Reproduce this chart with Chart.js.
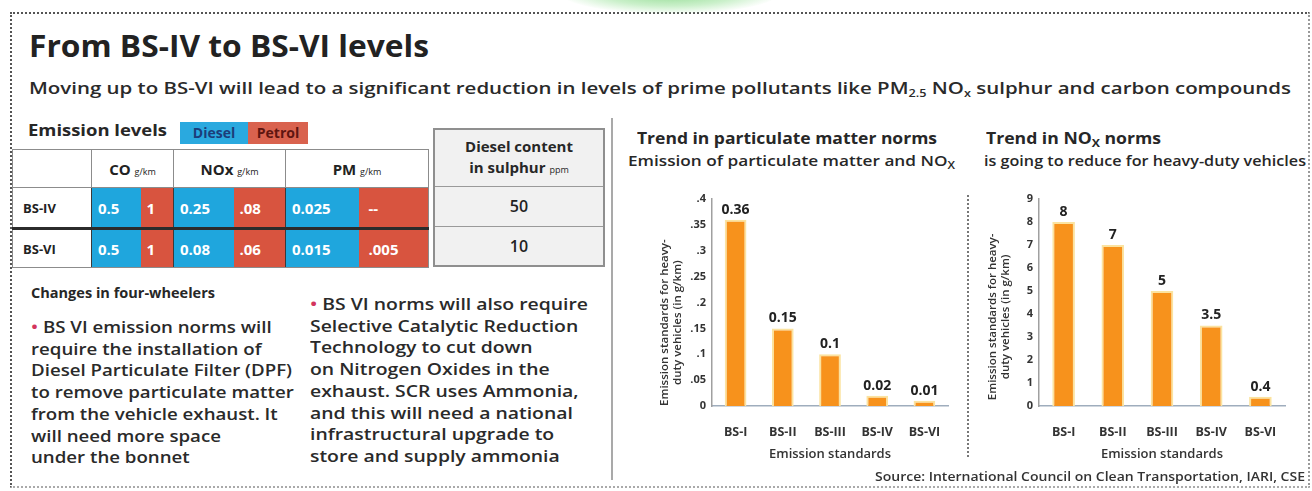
<!DOCTYPE html>
<html>
<head>
<meta charset="utf-8">
<script src="https://cdn.jsdelivr.net/npm/chart.js@4.4.0/dist/chart.umd.min.js"></script>
<style>
  html, body { margin: 0; padding: 0; background: #fff; }
  body { width: 1312px; height: 491px; position: relative; overflow: hidden; font-family: "Open Sans", sans-serif; color: #272727; }
  .abs { position: absolute; white-space: nowrap; }
  .fit { display: inline-block; transform-origin: 0 50%; }
  #frame { position: absolute; left: 10px; top: 12px; width: 1296px; height: 472px;
           border-top: 2px dotted #555; border-left: 2px dotted #555; border-right: 2px dotted #999; border-bottom: 2px dotted #aaa; }
  #blob { position: absolute; left: 560px; top: -30px; width: 220px; height: 44px; border-radius: 50%;
          background: radial-gradient(ellipse at center, rgba(120,210,120,.85) 0%, rgba(150,225,150,.5) 45%, rgba(255,255,255,0) 72%); }
  #title { left: 29px; top: 24px; font-size: 31px; font-weight: 700; color: #222; }
  #subtitle { left: 29px; top: 76px; font-size: 17px; font-weight: 600; color: #2a2a2a; }
  sub { font-size: 62%; vertical-align: -3px; line-height: 0; }
  #emlab { left: 28px; top: 119px; font-size: 16px; font-weight: 700; }
  .key { position: absolute; top: 122px; height: 22px; line-height: 22px; font-size: 14px; font-weight: 700; text-align: center; }
  table.em { position: absolute; left: 12px; top: 149px; border-collapse: collapse; table-layout: fixed; }
  table.em td { padding: 0 0 0 6px; font-weight: 700; font-size: 15px; white-space: nowrap; }
  table.em tr.head td { height: 37px; background: #fff; color: #222; text-align: center; padding: 0; border: 1.5px solid #8c8c8c; }
  table.em td.std { background: #fff; color: #222; font-size: 13px; padding-left: 10px; border-left: 1.5px solid #8c8c8c; }
  table.em td.d { background: #1fa6dd; color: #fff; }
  table.em td.p { background: #d8543f; color: #fff; }
  table.em tr.r0 td { height: 39px; border-bottom: 3px solid #2b2b2b; }
  table.em tr.r1 td { height: 37px; border-bottom: 1.5px solid #8c8c8c; }
  table.em td.grp { border-left: 1.5px solid #3a3a3a; }
  table.em td.last { border-right: 1.5px solid #8c8c8c; }
  .unit { font-size: 9px; font-weight: 400; }
  #sulphur { position: absolute; left: 433px; top: 128px; width: 168px; height: 135px; border: 2px solid #8f8f8f; background: #f1f1f1; }
  #sulphur div { text-align: center; }
  #sulphur .h { height: 57px; border-bottom: 1.5px solid #9a9a9a; font-weight: 700; font-size: 15px; line-height: 21px; padding-top: 6px; box-sizing: border-box; }
  #sulphur .v { height: 39px; line-height: 39px; font-size: 16px; font-weight: 600; color: #222; }
  #sulphur .v0 { border-bottom: 1.5px solid #9a9a9a; }
  #vsep { position: absolute; left: 611px; top: 118px; width: 2px; height: 362px; background: #a9a9a9; }
  #changes { left: 31px; top: 282px; font-size: 15px; font-weight: 700; }
  .col { position: absolute; font-size: 17px; font-weight: 600; line-height: 21.7px; color: #2a2a2a; transform-origin: 0 0; }
  .col div { white-space: nowrap; }
  .col span.line { display: inline-block; }
  .bul { color: #d3345d; }
  #ct1 { left: 637px; top: 127px; font-size: 16px; font-weight: 700; }
  #ct2 { left: 986px; top: 127px; font-size: 16px; font-weight: 700; }
  #csub1 { left: 628px; top: 150px; font-size: 15px; font-weight: 600; }
  #csub2 { left: 984px; top: 150px; font-size: 15px; font-weight: 600; }
  #csub1 sub, #ct2 sub { font-size: 70%; }
  #dsep { position: absolute; left: 967px; top: 195px; height: 262px; border-left: 2px dotted #777; }
  #source { left: 875px; top: 468px; font-size: 12px; font-weight: 600; color: #333; }
  canvas { position: absolute; }
</style>
</head>
<body>
<div id="frame"></div>
<div id="blob"></div>

<div class="abs" id="title"><span class="fit" data-w="400">From BS-IV to BS-VI levels</span></div>
<div class="abs" id="subtitle"><span class="fit" data-w="1262">Moving up to BS-VI will lead to a significant reduction in levels of prime pollutants like PM<sub>2.5</sub> NO<sub>x</sub> sulphur and carbon compounds</span></div>

<div class="abs" id="emlab"><span class="fit" data-w="139">Emission levels</span></div>
<div class="key" style="left:180px;width:68px;background:#2aa9df;color:#1c3d7a;">Diesel</div>
<div class="key" style="left:248px;width:60px;background:#d9624e;color:#5e1510;">Petrol</div>

<table class="em" id="emtable"></table>
<div id="sulphur"></div>
<div id="vsep"></div>

<div class="abs" id="changes"><span class="fit" data-w="184">Changes in four-wheelers</span></div>
<div class="col" id="colL" style="left:31px;top:316px;"></div>
<div class="col" id="colR" style="left:310px;top:293px;"></div>

<div class="abs" id="ct1"><span class="fit" data-w="300">Trend in particulate matter norms</span></div>
<div class="abs" id="ct2"><span class="fit" data-w="175">Trend in NO<sub>X</sub> norms</span></div>
<div class="abs" id="csub1"><span class="fit" data-w="327">Emission of particulate matter and NO<sub>X</sub></span></div>
<div class="abs" id="csub2"><span class="fit" data-w="322">is going to reduce for heavy-duty vehicles</span></div>

<canvas id="pmChart" width="335" height="295" style="left:625px;top:180px;"></canvas>
<div id="dsep"></div>
<canvas id="noxChart" width="322" height="295" style="left:975px;top:180px;"></canvas>

<div class="abs" id="source"><span class="fit" data-w="430">Source: International Council on Clean Transportation, IARI, CSE</span></div>

<script>
// ---- table data ----
const standards = ['BS-IV', 'BS-VI'];
const pollutants = ['CO', 'NOx', 'PM'];
const dieselLevels = [['0.5', '0.25', '0.025'], ['0.5', '0.08', '0.015']];
const petrolLevels = [['1', '.08', '--'], ['1', '.06', '.005']];
const sulphurPpm = [50, 10];

// ---- chart data ----
const normLabels = ['BS-I', 'BS-II', 'BS-III', 'BS-IV', 'BS-VI'];
const pmNorms = [0.36, 0.15, 0.1, 0.02, 0.01];
const noxNorms = [8, 7, 5, 3.5, 0.4];
const pmTickValues = [0, 0.05, 0.1, 0.15, 0.2, 0.25, 0.3, 0.35, 0.4];
const pmTickLabels = ['0', '.05', '.1', '.15', '.2', '.25', '.3', '.35', '.4'];
const noxTickValues = [0, 1, 2, 3, 4, 5, 6, 7, 8, 9];
const noxTickLabels = ['0', '1', '2', '3', '4', '5', '6', '7', '8', '9'];
const yTitle = ['Emission standards for heavy-', 'duty vehicles (in g/km)'];

// ---- text blocks ----
const leftText = [
  '<span class="bul">•</span> BS VI emission norms will',
  'require the installation of',
  'Diesel Particulate Filter (DPF)',
  'to remove particulate matter',
  'from the vehicle exhaust. It',
  'will need more space',
  'under the bonnet'
];
const rightText = [
  '<span class="bul">•</span> BS VI norms will also require',
  'Selective Catalytic Reduction',
  'Technology to cut down',
  'on Nitrogen Oxides in the',
  'exhaust. SCR uses Ammonia,',
  'and this will need a national',
  'infrastructural upgrade to',
  'store and supply ammonia'
];

// build emission table
const colW = [79, 49, 33, 60, 52, 73, 70];
let html = '<colgroup>' + colW.map(w => `<col style="width:${w}px">`).join('') + '</colgroup>';
html += '<tr class="head"><td></td>' + pollutants.map(p => `<td colspan="2">${p} <span class="unit">g/km</span></td>`).join('') + '</tr>';
standards.forEach((s, r) => {
  html += `<tr class="r${r}"><td class="std">${s}</td>`;
  pollutants.forEach((p, i) => {
    html += `<td class="d grp">${dieselLevels[r][i]}</td><td class="p${i === 2 ? ' last' : ''}"${i === 2 ? ' style="padding-left:10px"' : ''}>${petrolLevels[r][i]}</td>`;
  });
  html += '</tr>';
});
document.querySelector('#emtable').innerHTML = html;

document.querySelector('#sulphur').innerHTML =
  '<div class="h">Diesel content<br>in sulphur <span class="unit">ppm</span></div>' +
  sulphurPpm.map((v, i) => `<div class="v v${i}">${v}</div>`).join('');

document.querySelector('#colL').innerHTML = leftText.map(t => `<div><span class="line">${t}</span></div>`).join('');
document.querySelector('#colR').innerHTML = rightText.map(t => `<div><span class="line">${t}</span></div>`).join('');

function fitAll() {
  document.querySelectorAll('.fit').forEach(el => {
    const w = +el.dataset.w;
    const actual = el.getBoundingClientRect().width;
    if (actual > 0) el.style.transform = `scaleX(${w / actual})`;
  });
  // scale each text column so a reference line gets its measured width
  [['#colL', 2, 261], ['#colR', 0, 278]].forEach(([sel, idx, target]) => {
    const col = document.querySelector(sel);
    const ref = col.querySelectorAll('span.line')[idx];
    col.style.transform = `scaleX(${target / ref.getBoundingClientRect().width})`;
  });
}

// value labels above the bars
const valueLabels = {
  id: 'valueLabels',
  afterDatasetsDraw(chart) {
    const ctx = chart.ctx;
    const meta = chart.getDatasetMeta(0);
    const data = chart.data.datasets[0].data;
    ctx.save();
    ctx.font = 'bold 14px "Open Sans"';
    ctx.fillStyle = '#222';
    ctx.textAlign = 'center';
    ctx.textBaseline = 'bottom';
    meta.data.forEach((bar, i) => ctx.fillText(String(data[i]), bar.x, bar.y - 3));
    ctx.restore();
  }
};

// the axis title sits a little below the middle of the axis in the original,
// trailing en-spaces push the centred text down after the -90deg rotation
const padTitle = n => yTitle.map(t => t + '\u2002'.repeat(n));

function makeChart(id, values, tickValues, tickLabels, yWidth, titlePad, padRight, shift) {
  return new Chart(document.querySelector(id), {
    type: 'bar',
    data: {
      labels: normLabels,
      datasets: [{
        data: values,
        backgroundColor: '#f7921c',
        borderColor: '#fbe3a0',
        borderWidth: 2,
        borderSkipped: 'bottom',
        barPercentage: 0.46,
        categoryPercentage: 1
      }]
    },
    options: {
      responsive: false,
      animation: false,
      layout: { padding: { top: 19, right: padRight, left: 0, bottom: 0 } },
      plugins: { legend: { display: false }, tooltip: { enabled: false } },
      scales: {
        x: {
          grid: { display: false, drawTicks: false },
          border: { display: true, color: '#9fadbd', width: 1.5 },
          ticks: { color: '#333', padding: 19, font: { family: 'Open Sans', size: 12.5, weight: 'bold' } },
          title: { display: true, text: 'Emission standards', color: '#333', padding: { top: 0, bottom: 13 },
                   font: { family: 'Open Sans', size: 13, weight: 600 } },
          afterFit: s => { s.height = 69; }
        },
        y: {
          min: tickValues[0],
          max: tickValues[tickValues.length - 1],
          grid: { display: false, drawTicks: false },
          border: { display: true, color: '#a0a0a0', width: 1.5 },
          afterBuildTicks: s => { s.ticks = tickValues.map(v => ({ value: v })); },
          ticks: { color: '#333', padding: 6, font: { family: 'Open Sans', size: 11, weight: 'bold' },
                   callback: (v, i) => tickLabels[i] },
          title: { display: true, text: padTitle(shift), color: '#333',
                   padding: { top: titlePad, bottom: 0 }, font: { family: 'Open Sans', size: 11.5, weight: 600, lineHeight: 1.15 } },
          afterFit: s => { s.width = yWidth; }
        }
      }
    },
    plugins: [valueLabels]
  });
}

makeChart('#pmChart', pmNorms, pmTickValues, pmTickLabels, 87, 33, 8, 7);
makeChart('#noxChart', noxNorms, noxTickValues, noxTickLabels, 64, 11, 12, 5);

if (document.fonts && document.fonts.ready) document.fonts.ready.then(fitAll); else fitAll();
</script>
</body>
</html>
